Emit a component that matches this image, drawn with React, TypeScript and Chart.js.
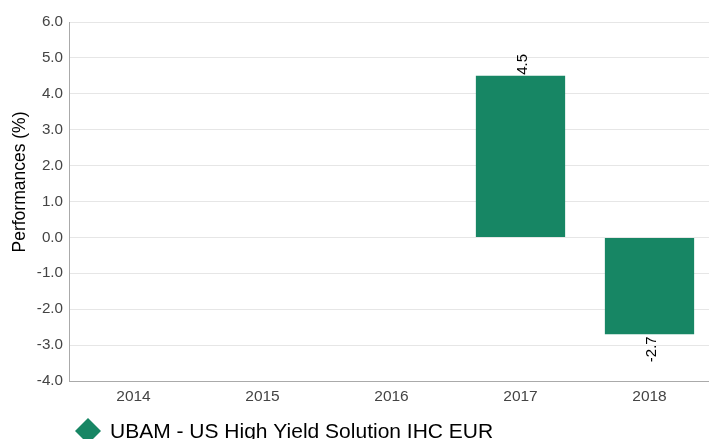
import React, { useEffect, useRef } from "react";
import { Chart, registerables } from "chart.js";

Chart.register(...registerables);

const years: string[] = ["2014", "2015", "2016", "2017", "2018"];
const performances: (number | null)[] = [null, null, null, 4.5, -2.7];
const seriesLabel = "UBAM - US High Yield Solution IHC EUR";
const yTitle = "Performances (%)";
const yMin = -4;
const yMax = 6;
const yStep = 1;

const GREEN = "#178664";
const FONT = "'Liberation Sans', Arial, sans-serif";

const extrasPlugin = {
  id: "extras",
  afterDraw(chart: any) {
    const ctx = chart.ctx as CanvasRenderingContext2D;
    // value labels
    const meta = chart.getDatasetMeta(0);
    ctx.save();
    ctx.fillStyle = "#000";
    ctx.font = `15px ${FONT}`;
    ctx.textBaseline = "alphabetic";
    meta.data.forEach((bar: any, i: number) => {
      const v = performances[i];
      if (v === null || v === undefined) return;
      ctx.save();
      const bx = bar.x + 6.8;
      if (v >= 0) {
        ctx.translate(bx, bar.y - 1);
        ctx.rotate(-Math.PI / 2);
        ctx.textAlign = "left";
      } else {
        ctx.translate(bx, bar.y + 2);
        ctx.rotate(-Math.PI / 2);
        ctx.textAlign = "right";
      }
      ctx.fillText(v.toFixed(1), 0, 0);
      ctx.restore();
    });
    ctx.restore();

    // y-axis title
    ctx.save();
    ctx.fillStyle = "#000";
    ctx.font = `17.5px ${FONT}`;
    ctx.textAlign = "center";
    ctx.textBaseline = "alphabetic";
    ctx.translate(25, 182);
    ctx.rotate(-Math.PI / 2);
    ctx.fillText(yTitle, 0, 0);
    ctx.restore();

    // legend
    ctx.save();
    const cx = 88;
    const cy = 431;
    const r = 13;
    ctx.fillStyle = GREEN;
    ctx.beginPath();
    ctx.moveTo(cx, cy - r);
    ctx.lineTo(cx + r, cy);
    ctx.lineTo(cx, cy + r);
    ctx.lineTo(cx - r, cy);
    ctx.closePath();
    ctx.fill();
    ctx.fillStyle = "#000";
    ctx.font = `21px ${FONT}`;
    ctx.textAlign = "left";
    ctx.textBaseline = "alphabetic";
    ctx.fillText(seriesLabel, 110, 438);
    ctx.restore();
  },
};

export default function App() {
  const canvasRef = useRef<HTMLCanvasElement | null>(null);

  useEffect(() => {
    document.body.style.margin = "0";
    const canvas = canvasRef.current;
    if (!canvas) return;
    const chart = new Chart(canvas, {
      type: "bar",
      data: {
        labels: years,
        datasets: [
          {
            label: seriesLabel,
            data: performances,
            backgroundColor: GREEN,
            borderWidth: 0,
            categoryPercentage: 1,
            barPercentage: 0.692,
          },
        ],
      },
      options: {
        animation: false,
        responsive: false,
        devicePixelRatio: 1,
        layout: { padding: { top: 22, left: 0, right: 0, bottom: 0 } },
        plugins: {
          legend: { display: false },
          tooltip: { enabled: false },
        },
        scales: {
          x: {
            grid: { display: false, drawTicks: false },
            border: { display: true, color: "#aaaaaa", width: 1 },
            ticks: {
              color: "#444",
              font: { family: FONT, size: 15.5 },
              padding: 6,
              maxRotation: 0,
            },
            afterFit(scale: any) {
              scale.height = 58;
            },
          },
          y: {
            min: yMin,
            max: yMax,
            grid: { color: "#e6e6e6", drawTicks: false, lineWidth: 1 },
            border: { display: true, color: "#aaaaaa", width: 1 },
            ticks: {
              stepSize: yStep,
              color: "#444",
              font: { family: FONT, size: 15.2 },
              padding: 6,
              callback: (v: any) => Number(v).toFixed(1),
            },
            afterFit(scale: any) {
              scale.width = 69;
            },
          },
        },
      },
      plugins: [extrasPlugin],
    });
    return () => chart.destroy();
  }, []);

  return (
    <div style={{ width: 709, height: 439, overflow: "hidden", position: "relative" }}>
      <canvas ref={canvasRef} width={714} height={439} style={{ width: 714, height: 439, display: "block" }} />
    </div>
  );
}
